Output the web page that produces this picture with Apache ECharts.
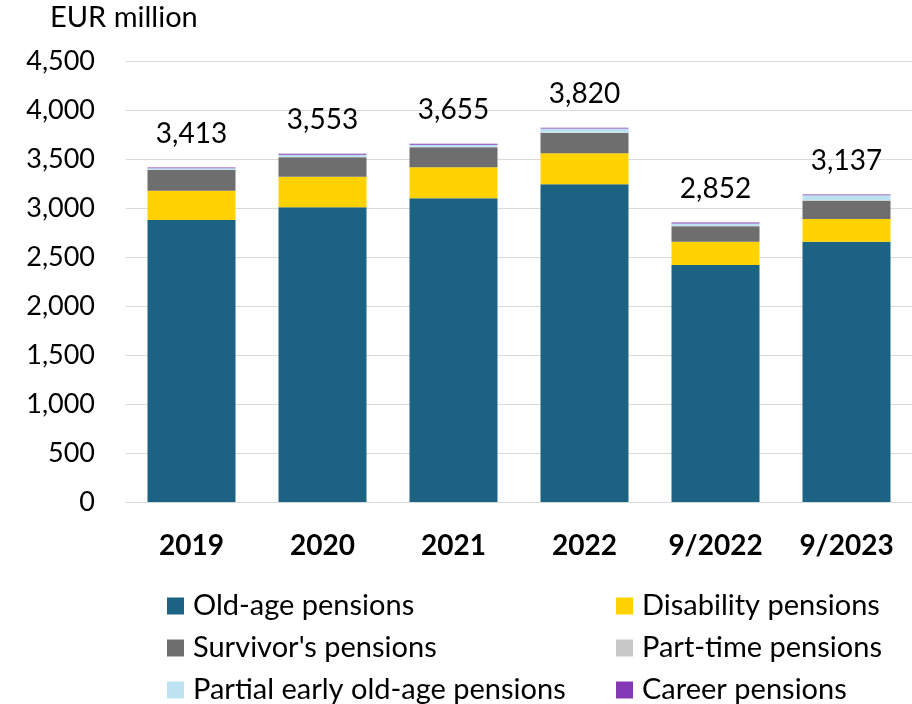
<!DOCTYPE html>
<html><head><meta charset="utf-8">
<script src="https://cdn.jsdelivr.net/npm/echarts@6/dist/echarts.min.js"></script>
<style>html,body{margin:0;padding:0;background:#fff}#c{width:912px;height:704px}</style>
</head><body><div id="c"></div>
<script>
const categories = ['2019','2020','2021','2022','9/2022','9/2023'];
const oldAge = [2878, 3007, 3099, 3242, 2418, 2656];
const disability = [299, 312, 316, 316, 238, 232];
const survivors = [211, 198, 204, 207, 157, 187];
const partTime = [3, 4, 4, 5, 3, 4];
const partialEarly = [14, 22, 22, 40, 27, 50];
const career = [8, 10, 10, 10, 9, 8];
const totals = [3413, 3553, 3655, 3820, 2852, 3137];
const yTicks = [0, 500, 1000, 1500, 2000, 2500, 3000, 3500, 4000, 4500];

const FONT = 'Lato';
const FS = 27;
const chart = echarts.init(document.getElementById('c'), null, {renderer:'canvas'});
const fmt = v => v.toLocaleString('en-US');
function s(name, data, color, extra) {
  return Object.assign({
    name, type:'bar', stack:'t', data, barWidth:88,
    itemStyle:{color}, emphasis:{disabled:true}
  }, extra || {});
}
const legendItems = [
  ["Old-age pensions", 167, 606],
  ["Survivor's pensions", 167, 648],
  ["Partial early old-age pensions", 167, 690],
  ["Disability pensions", 616, 606],
  ["Part-time pensions", 616, 648],
  ["Career pensions", 616, 690]
];
chart.setOption({
  animation:false,
  textStyle:{fontFamily:FONT},
  graphic:[{type:'text', left:50, top:3, style:{text:'EUR million', font:'29px '+FONT, fill:'#000'}}],
  grid:{left:126, top:61, width:792, height:441},
  xAxis:{type:'category', data:categories,
    axisLine:{show:false}, axisTick:{show:false},
    axisLabel:{margin:30, fontSize:28, fontWeight:'bold', color:'#000', fontFamily:FONT}},
  yAxis:{type:'value', min:yTicks[0], max:yTicks[yTicks.length-1], interval:500,
    axisLabel:{margin:31, fontSize:FS, color:'#000', fontFamily:FONT, formatter:v=>fmt(v)},
    splitLine:{lineStyle:{color:'#d9d9d9', width:1}}},
  legend: legendItems.map(([name, left, cy]) => ({
    left, top: cy - 15, padding:0, itemWidth:17, itemHeight:17, icon:'rect',
    selectedMode:false, data:[name],
    textStyle:{fontSize:29, lineHeight:30, color:'#000', fontFamily:FONT, padding:[0,0,0,4]}
  })),
  series:[
    s('Old-age pensions', oldAge, '#1c6283'),
    s('Disability pensions', disability, '#ffd200'),
    s("Survivor's pensions", survivors, '#6e6e6e'),
    s('Part-time pensions', partTime, '#c8c8c8'),
    s('Partial early old-age pensions', partialEarly, '#bde3f2'),
    s('Career pensions', career, '#8338b4', {
      label:{show:true, position:'top', distance:20, fontSize:28, color:'#000', fontFamily:FONT,
        formatter:p=>fmt(totals[p.dataIndex])}})
  ]
});
</script></body></html>
